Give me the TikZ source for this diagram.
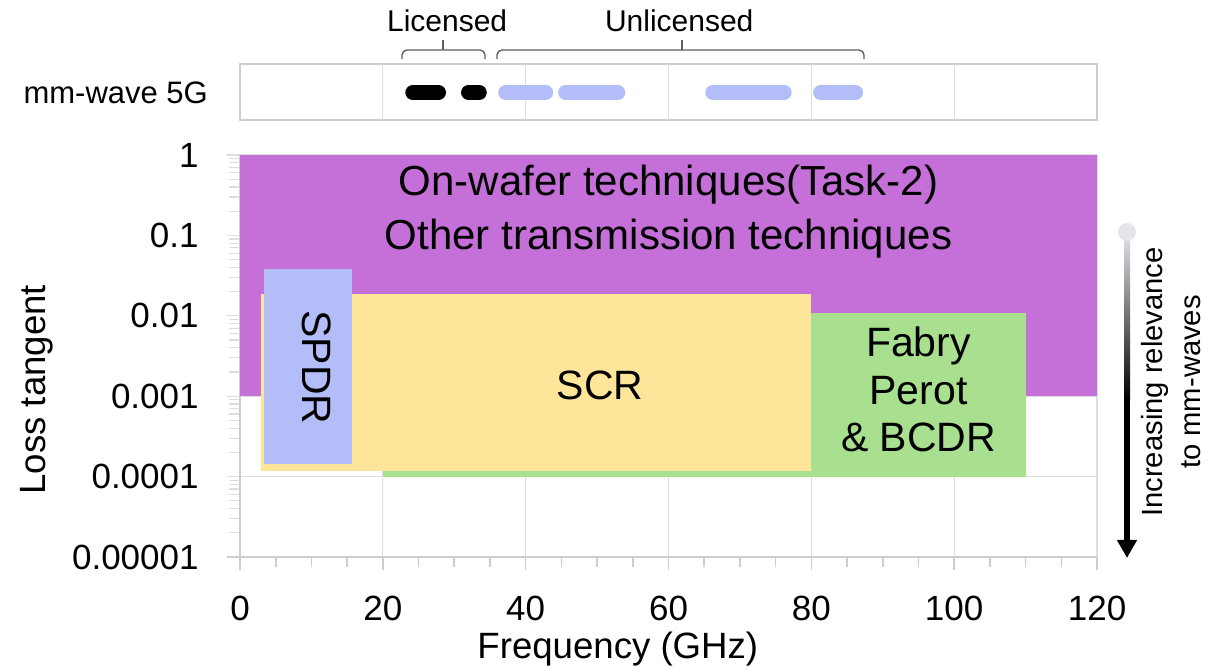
\documentclass[tikz,border=0pt]{standalone}
\usepackage{fontspec}
\setmainfont{Liberation Sans}
\usetikzlibrary{arrows.meta,positioning,calc}
\definecolor{wafer}{RGB}{197,111,216}
\definecolor{spdr}{RGB}{179,190,248}
\definecolor{scr}{RGB}{255,229,153}
\definecolor{fabry}{RGB}{168,224,143}
\definecolor{gridgray}{RGB}{222,222,222}
\definecolor{axisgray}{RGB}{205,205,205}
\definecolor{bracegray}{RGB}{95,95,95}
\definecolor{relstart}{RGB}{228,229,235}
\newcommand{\fsz}[2]{\fontsize{#1}{#2}\selectfont}
\tikzset{%
  % lines
  gridln/.style={draw=gridgray, line width=0.6pt},
  axisln/.style={draw=axisgray, line width=0.8pt},
  brace/.style={draw=bracegray, line width=0.7pt, rounded corners=2.5pt},
  pill/.style={line width=7.5pt, line cap=round},
  % texts
  ylab/.style={anchor=east, inner sep=0pt, font={\fsz{17.5pt}{21pt}}},
  xlab/.style={inner sep=0pt, font={\fsz{17.5pt}{21pt}}},
  axtitle/.style={inner sep=0pt, font={\fsz{18.3pt}{22pt}}},
  reglab/.style={align=center, inner sep=0pt, font={\fsz{20.5pt}{23.75pt}}},
  bandlab/.style={inner sep=0pt, font={\fsz{15pt}{18pt}}},
}

\begin{document}
\begin{tikzpicture}[x=3.5708pt, y=40.2pt]
  \useasboundingbox (-33.606,-1.3557) rectangle (136.94,6.928);

  % Grid and axes
  \foreach \f in {20,40,...,120} \draw[gridln] (\f,0) -- (\f,5);
  \foreach \d in {1,...,5} \draw[gridln] (-1.8,\d) -- (120,\d);
  \foreach \d in {0,...,4}
    \foreach \k in {2,...,9}
      \draw[gridln] (-1.5,{\d+log10(\k)}) -- (0,{\d+log10(\k)});
  \draw[axisln] (0,0) -- (0,5);
  \draw[axisln] (-1.8,0) -- (120,0);
  \foreach \f in {5,10,...,115} \draw[axisln] (\f,0) -- (\f,-0.124);
  \foreach \f in {0,20,...,120} \draw[axisln] (\f,0) -- (\f,-0.162);

  % Measurement ranges
  \fill[wafer] (0,2) rectangle (120,5);
  \fill[fabry] (20,1) rectangle (110,3.04);
  \fill[scr] (3,1.07) rectangle (80,3.27);
  \fill[spdr] (3.3,1.157) rectangle (15.7,3.58);

  \node[reglab, font={\fsz{21pt}{27pt}}] (wafer_lab) at (60,4.3)
    {On-wafer techniques(Task-2)\\Other transmission techniques};
  \node[reglab] (scr_lab) at (50.4,2.14) {SCR};
  \node[reglab, rotate=-90] (spdr_lab) at (10.7,2.36) {SPDR};
  \node[reglab] (fabry_lab) at (95,2.08) {Fabry\\Perot\\\& BCDR};

  % Tick labels and titles
  \foreach \d/\t in {0/0.00001,1/0.0001,2/0.001,3/0.01,4/0.1,5/1}
    \node[ylab] (ytick\d) at (-5.74,\d) {\t};
  \foreach \f in {0,20,...,120}
    \node[xlab] (xtick\f) at (\f,-0.64) {\f};
  \node[axtitle, rotate=90] (ytitle) at (-28.4,2.08) {Loss tangent};
  \node[axtitle] (xtitle) at (52.9,-1.15) {Frequency (GHz)};

  % mm-wave 5G bands
  \draw[gridln, draw=axisgray] (0,5.435) rectangle (120,6.132);
  \foreach \f in {20,40,...,100} \draw[gridln] (\f,5.435) -- (\f,6.132);
  \node[bandlab, font={\fsz{15.5pt}{18pt}}] (mmw) at (-17.4,5.771) {mm-wave 5G};
  \draw[pill, black] (24.2,5.777) -- (27.8,5.777);
  \draw[pill, black] (32.0,5.777) -- (33.5,5.777);
  \draw[pill, spdr] (37.2,5.777) -- (42.8,5.777);
  \draw[pill, spdr] (45.6,5.777) -- (52.9,5.777);
  \draw[pill, spdr] (66.2,5.777) -- (76.2,5.777);
  \draw[pill, spdr] (81.3,5.777) -- (86.2,5.777);

  \draw[brace] (22.68,6.194) -- (22.68,6.306) -- (34.31,6.306) -- (34.31,6.194);
  \draw[brace] (28.4,6.306) -- (28.4,6.43);
  \draw[brace] (35.99,6.194) -- (35.99,6.306) -- (87.37,6.306) -- (87.37,6.194);
  \draw[brace] (61.9,6.306) -- (61.9,6.43);
  \node[bandlab] (lic) at (29.0,6.667) {Licensed};
  \node[bandlab] (unlic) at (61.5,6.667) {Unlicensed};

  % Relevance arrow
  \coordinate (rel_top) at (124.2,4.042);
  \coordinate (rel_mid) at (124.2,1.95);
  \coordinate (rel_tip) at (124.2,-0.012);
  \shade[top color=relstart, bottom color=black]
    ($(rel_top)+(-1.5pt,0)$) rectangle ($(rel_mid)+(1.5pt,0)$);
  \draw[line width=3pt, -{Triangle[width=9.5pt,length=9pt]}] (rel_mid) -- (rel_tip);
  \fill[relstart] (rel_top) circle (4.5pt);
  \node[rotate=90, align=center, inner sep=0pt, font={\fsz{14.6pt}{19pt}}] (rel_lab)
    at (130.4,2.177) {Increasing relevance\\to mm-waves};
\end{tikzpicture}
\end{document}
